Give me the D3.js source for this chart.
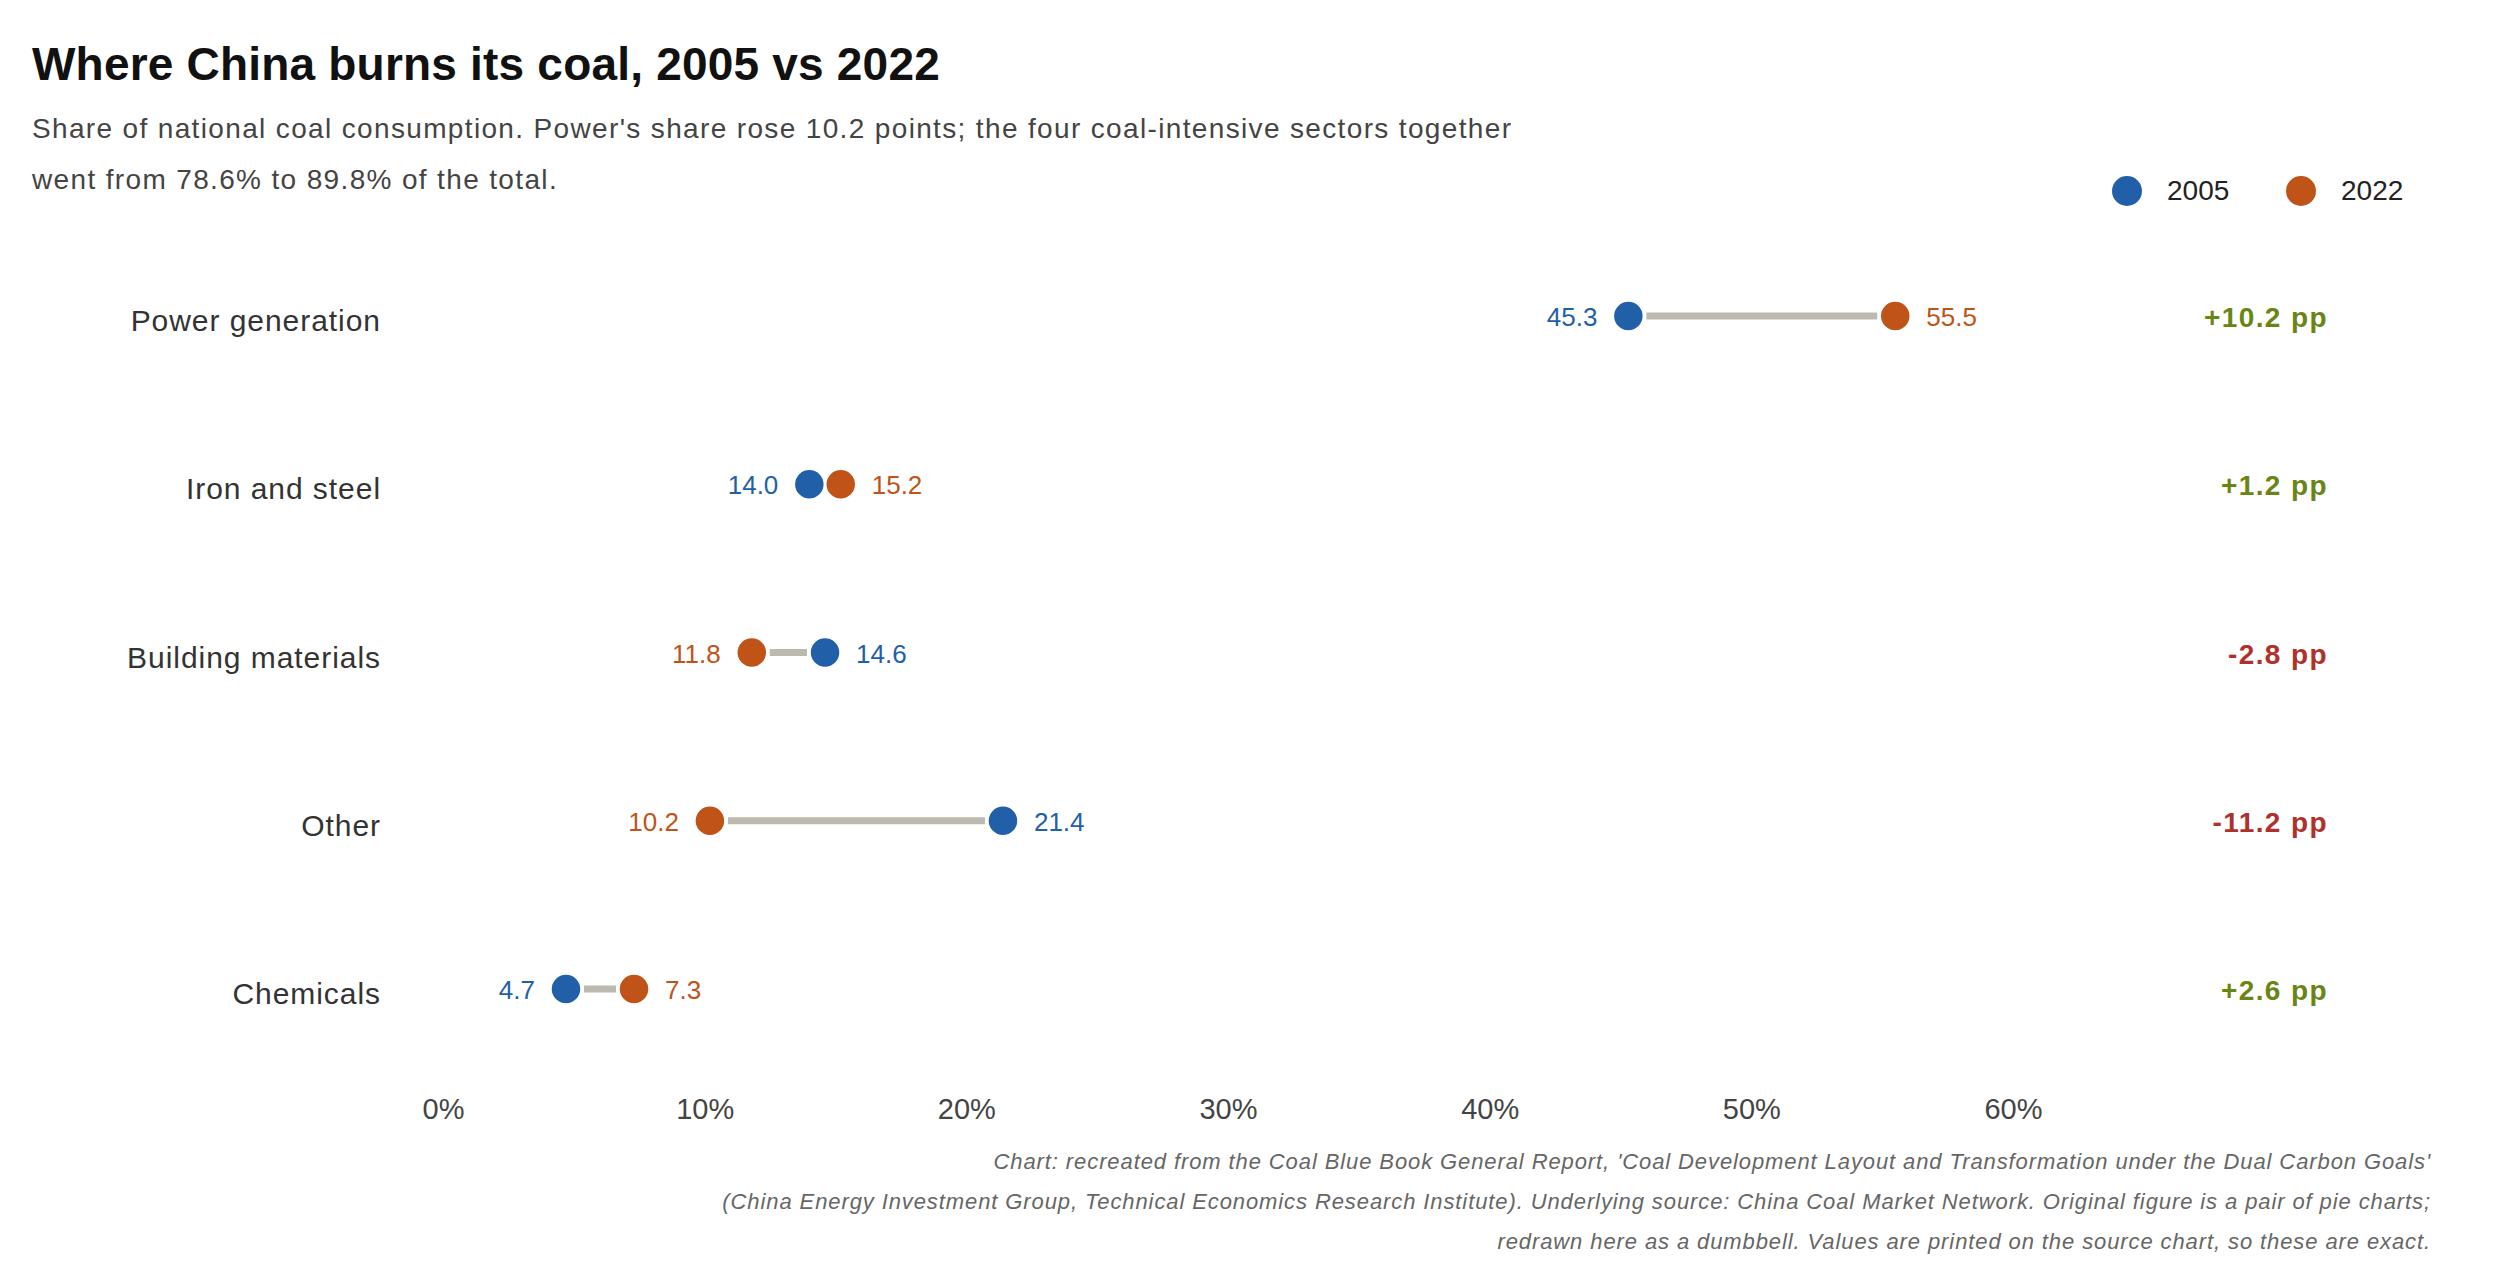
<!DOCTYPE html>
<html>
<head>
<meta charset="utf-8">
<script src="https://cdn.jsdelivr.net/npm/d3@7"></script>
<style>
  html, body { margin: 0; padding: 0; background: #fff; }
  svg { display: block; font-family: "Liberation Sans", Arial, Helvetica, sans-serif; }
</style>
</head>
<body>
<svg id="chart" width="2520" height="1280"></svg>
<script>
const categories = ["Power generation", "Iron and steel", "Building materials", "Other", "Chemicals"];
const values2005 = [45.3, 14.0, 14.6, 21.4, 4.7];
const values2022 = [55.5, 15.2, 11.8, 10.2, 7.3];
const xTicks = [0, 10, 20, 30, 40, 50, 60];
const seriesNames = ["2005", "2022"];

const titleText = "Where China burns its coal, 2005 vs 2022";
const subtitleLines = [
  "Share of national coal consumption. Power's share rose 10.2 points; the four coal-intensive sectors together",
  "went from 78.6% to 89.8% of the total."
];
const footLines = [
  "Chart: recreated from the Coal Blue Book General Report, 'Coal Development Layout and Transformation under the Dual Carbon Goals'",
  "(China Energy Investment Group, Technical Economics Research Institute). Underlying source: China Coal Market Network. Original figure is a pair of pie charts;",
  "redrawn here as a dumbbell. Values are printed on the source chart, so these are exact."
];

const C2005 = "#2160a8", C2022 = "#bf5318";
const CUP = "#6a8514", CDOWN = "#b0302a";

const svg = d3.select("#chart");

const x = d3.scaleLinear().domain([0, 60]).range([443, 2013]);
const y = d3.scalePoint().domain(categories).range([316, 989]);

// Title & subtitle
svg.append("text").attr("x", 32).attr("y", 80)
  .attr("font-size", 46).attr("font-weight", "bold").attr("fill", "#111")
  .attr("letter-spacing", 0.2)
  .text(titleText);
svg.selectAll("text.sub").data(subtitleLines).join("text")
  .attr("class", "sub").attr("x", 32).attr("y", (d, i) => 138 + i * 51)
  .attr("font-size", 28).attr("fill", "#444").attr("letter-spacing", 1.35).text(d => d);

// Legend
const legend = svg.append("g");
const legendX = [2127, 2301];
seriesNames.forEach((s, i) => {
  legend.append("circle").attr("cx", legendX[i]).attr("cy", 191).attr("r", 15)
    .attr("fill", i === 0 ? C2005 : C2022);
  legend.append("text").attr("x", legendX[i] + 40).attr("y", 200)
    .attr("font-size", 28).attr("fill", "#222").text(s);
});

// Category labels
svg.selectAll("text.cat").data(categories).join("text")
  .attr("class", "cat").attr("x", 381).attr("y", d => y(d) + 15)
  .attr("text-anchor", "end").attr("font-size", 30).attr("fill", "#333")
  .attr("letter-spacing", 0.95)
  .text(d => d);

const rows = categories.map((c, i) => ({ c, a: values2005[i], b: values2022[i] }));
const R = 15;

// Connecting lines
svg.selectAll("line.conn").data(rows.filter(d => Math.abs(x(d.b) - x(d.a)) > 2 * R + 6)).join("line")
  .attr("class", "conn")
  .attr("x1", d => Math.min(x(d.a), x(d.b)) + R + 3)
  .attr("x2", d => Math.max(x(d.a), x(d.b)) - R - 3)
  .attr("y1", d => y(d.c)).attr("y2", d => y(d.c))
  .attr("stroke", "#bcb9b1").attr("stroke-width", 7);

// Dots
svg.selectAll("circle.d05").data(rows).join("circle")
  .attr("class", "d05").attr("cx", d => x(d.a)).attr("cy", d => y(d.c)).attr("r", R)
  .attr("fill", C2005).attr("stroke", "#fff").attr("stroke-width", 1.5);
svg.selectAll("circle.d22").data(rows).join("circle")
  .attr("class", "d22").attr("cx", d => x(d.b)).attr("cy", d => y(d.c)).attr("r", R)
  .attr("fill", C2022).attr("stroke", "#fff").attr("stroke-width", 1.5);

// Value labels
const fmt = d3.format(".1f");
rows.forEach(d => {
  const aLeft = d.a <= d.b;
  svg.append("text")
    .attr("x", aLeft ? x(d.a) - 31 : x(d.a) + 31).attr("y", y(d.c) + 10)
    .attr("text-anchor", aLeft ? "end" : "start")
    .attr("font-size", 26).attr("fill", C2005).text(fmt(d.a));
  svg.append("text")
    .attr("x", aLeft ? x(d.b) + 31 : x(d.b) - 31).attr("y", y(d.c) + 10)
    .attr("text-anchor", aLeft ? "start" : "end")
    .attr("font-size", 26).attr("fill", C2022).text(fmt(d.b));
});

// Delta labels
svg.selectAll("text.delta").data(rows).join("text")
  .attr("class", "delta").attr("x", 2328).attr("y", d => y(d.c) + 11)
  .attr("text-anchor", "end").attr("font-size", 28).attr("font-weight", "bold")
  .attr("letter-spacing", 1.4)
  .attr("fill", d => (d.b - d.a) >= 0 ? CUP : CDOWN)
  .text(d => { const v = d.b - d.a; return (v >= 0 ? "+" : "-") + fmt(Math.abs(v)) + " pp"; });

// X axis (labels only)
const axis = d3.axisBottom(x).tickValues(xTicks).tickFormat(d => d + "%").tickSize(0).tickPadding(0);
const gAxis = svg.append("g").attr("transform", "translate(0,1098)").call(axis);
gAxis.select(".domain").remove();
gAxis.selectAll("text").attr("font-size", 29).attr("fill", "#444")
  .attr("font-family", "'Liberation Sans', Arial, sans-serif").attr("dy", "0.71em");

// Footnote
svg.selectAll("text.foot").data(footLines).join("text")
  .attr("class", "foot").attr("x", 2431).attr("y", (d, i) => 1169 + i * 40)
  .attr("text-anchor", "end").attr("font-size", 22).attr("font-style", "italic")
  .attr("letter-spacing", 0.9)
  .attr("fill", "#666").text(d => d);
</script>
</body>
</html>
